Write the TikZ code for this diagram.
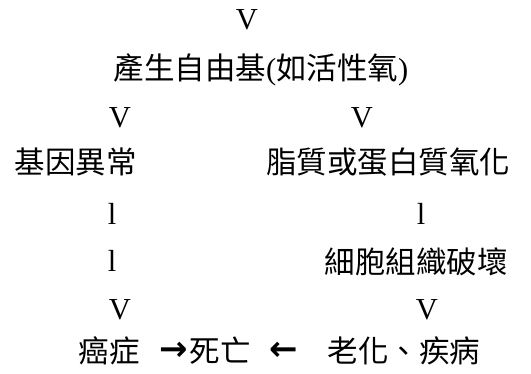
\documentclass[tikz,border=0pt]{standalone}
\usepackage{fontspec}
\setmainfont{Liberation Serif}
\newfontfamily\cjk{Noto Sans CJK TC}
\newfontfamily\arrowfont{DejaVu Sans Bold}
\begin{document}
\begin{tikzpicture}[x=1pt,y=-1pt,
  txt/.style={inner sep=0pt,font=\fontsize{30.5}{36}\selectfont},
  zh/.style={txt,font=\fontsize{30.5}{36}\selectfont\cjk},
  arr/.style={inner sep=0pt,font=\fontsize{34}{40}\selectfont\arrowfont}]
\useasboundingbox (0,0) rectangle (531,374);
\node[txt] (v0) at (247,20) {V};
\node[zh] (free) at (261,70) {產生自由基{\fontspec{Liberation Serif}(}如活性氧{\fontspec{Liberation Serif})}};
\node[txt] (v1l) at (120,118) {V};
\node[txt] (v1r) at (362,118) {V};
\node[zh] (gene) at (76,162) {基因異常};
\node[zh] (lipid) at (388,162) {脂質或蛋白質氧化};
\node[txt] (l1l) at (112,214) {l};
\node[txt] (l1r) at (421,214) {l};
\node[txt] (l2l) at (112,261) {l};
\node[zh] (cell) at (416,262) {細胞組織破壞};
\node[txt] (v2l) at (120,310) {V};
\node[txt] (v2r) at (427,310) {V};
\node[zh] (cancer) at (109,351) {癌症};
\node[arr] (ra) at (174,351) {→};
\node[zh] (death) at (220,351) {死亡};
\node[arr] (la) at (284,351) {←};
\node[zh] (aging) at (404,351) {老化、疾病};
\end{tikzpicture}
\end{document}
